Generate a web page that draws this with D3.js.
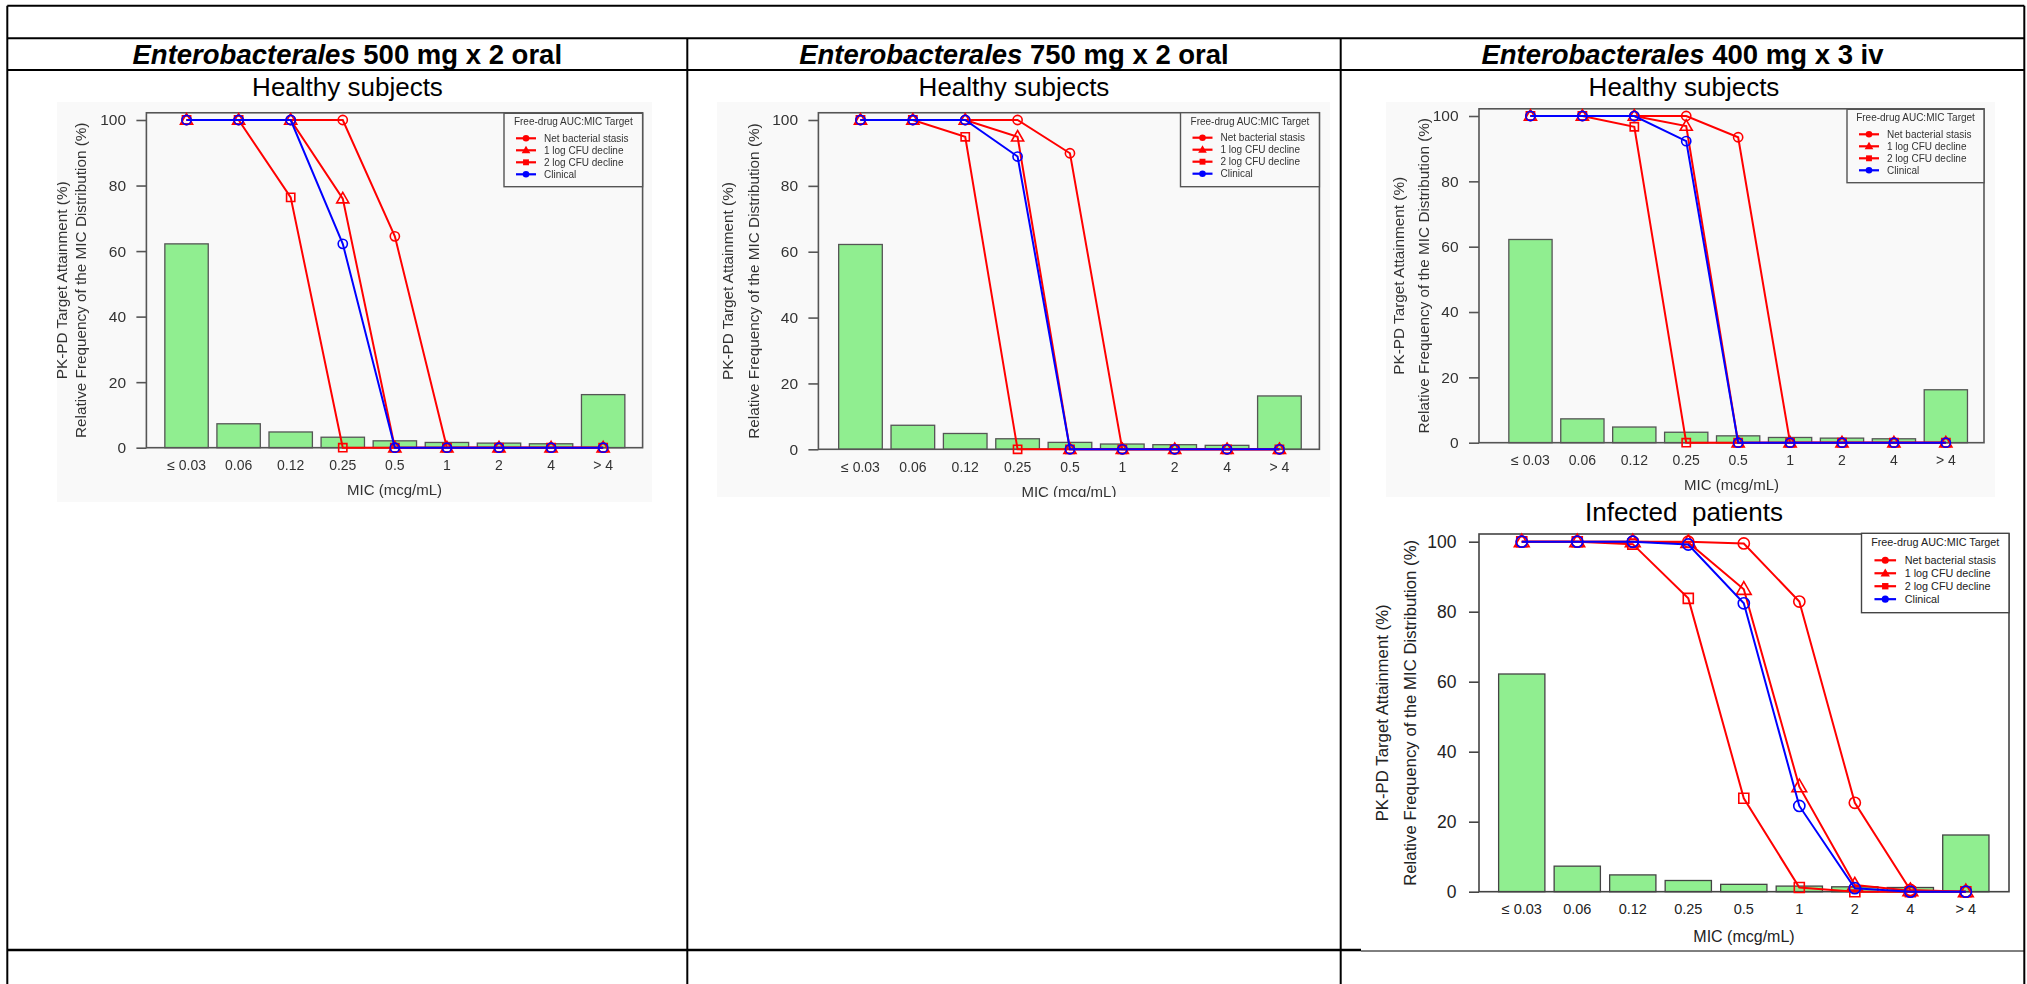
<!DOCTYPE html>
<html>
<head>
<meta charset="utf-8">
<script src="https://cdn.jsdelivr.net/npm/d3@7"></script>
<style>
  body { margin: 0; background: #fff; }
  svg { display: block; font-family: "Liberation Sans", Arial, sans-serif; }
</style>
</head>
<body>
<svg id="page" width="2027" height="984"></svg>
<script>
// ---- data ----
const micLabels = ["\u2264 0.03", "0.06", "0.12", "0.25", "0.5", "1", "2", "4", "> 4"];
const micFrequency = [62.2, 7.3, 4.8, 3.2, 2.1, 1.6, 1.4, 1.2, 16.2];
const yTicks = [0, 20, 40, 60, 80, 100];
const targetNames = ["Net bacterial stasis", "1 log CFU decline", "2 log CFU decline", "Clinical"];
const targetColors = ["#ff0000", "#ff0000", "#ff0000", "#0000ff"];
const targetShapes = ["circle", "triangle", "square", "circle"];
const doseLabels = ["500 mg x 2 oral", "750 mg x 2 oral", "400 mg x 3 iv"];

const oral500Stasis   = [100, 100, 100, 100, 64.5, 0, 0, 0, 0];
const oral500OneLog   = [100, 100, 100, 76, 0, 0, 0, 0, 0];
const oral500TwoLog   = [100, 100, 76.4, 0, 0, 0, 0, 0, 0];
const oral500Clinical = [100, 100, 100, 62.2, 0, 0, 0, 0, 0];

const oral750Stasis   = [100, 100, 100, 100, 89.9, 0, 0, 0, 0];
const oral750OneLog   = [100, 100, 100, 94.9, 0, 0, 0, 0, 0];
const oral750TwoLog   = [100, 100, 94.9, 0, 0, 0, 0, 0, 0];
const oral750Clinical = [100, 100, 100, 88.9, 0, 0, 0, 0, 0];

const iv400Stasis   = [100, 100, 100, 100, 93.5, 0, 0, 0, 0];
const iv400OneLog   = [100, 100, 100, 96.9, 0, 0, 0, 0, 0];
const iv400TwoLog   = [100, 100, 96.7, 0, 0, 0, 0, 0, 0];
const iv400Clinical = [100, 100, 100, 92.3, 0, 0, 0, 0, 0];

const infectedStasis   = [100, 100, 100, 100, 99.5, 82.9, 25.4, 0.5, 0];
const infectedOneLog   = [100, 100, 100, 99.8, 86.4, 30, 1.9, 0.3, 0];
const infectedTwoLog   = [100, 100, 99.3, 83.8, 26.7, 1.2, 0, 0, 0];
const infectedClinical = [100, 100, 100, 99.2, 82.4, 24.5, 1.0, 0, 0];

const FONT = '"Liberation Sans", Arial, sans-serif';
const svg = d3.select("#page");

svg.append("defs").append("filter").attr("id", "soft")
  .append("feGaussianBlur").attr("stdDeviation", 0.45);

// ---- table frame ----
const frame = svg.append("g").attr("stroke", "#000").attr("stroke-width", 2);
const colX = [7.3, 687.3, 1340.7, 2024.3];
frame.append("line").attr("x1", colX[0]).attr("x2", colX[3]).attr("y1", 5.7).attr("y2", 5.7);
[38.3, 70].forEach(yy =>
  frame.append("line").attr("x1", colX[0]).attr("x2", colX[3]).attr("y1", yy).attr("y2", yy));
frame.append("line").attr("x1", colX[0]).attr("x2", colX[0]).attr("y1", 5.7).attr("y2", 984);
frame.append("line").attr("x1", colX[3]).attr("x2", colX[3]).attr("y1", 5.7).attr("y2", 984);
[colX[1], colX[2]].forEach(xx =>
  frame.append("line").attr("x1", xx).attr("x2", xx).attr("y1", 38.3).attr("y2", 984));
frame.append("line").attr("x1", colX[0]).attr("x2", 1361).attr("y1", 950).attr("y2", 950).attr("stroke-width", 2.5);
frame.append("line").attr("x1", 1361).attr("x2", colX[3]).attr("y1", 951).attr("y2", 951).attr("stroke-width", 1);

// column headers
doseLabels.forEach((dose, i) => {
  const t = svg.append("text")
    .attr("x", (colX[i] + colX[i + 1]) / 2).attr("y", 63.5)
    .attr("text-anchor", "middle").attr("font-size", 27.5).attr("font-weight", "bold");
  t.append("tspan").attr("font-style", "italic").text("Enterobacterales");
  t.append("tspan").text(" " + dose);
});

// sub titles
[[347.5, 96, "Healthy subjects"], [1014, 96, "Healthy subjects"], [1684, 96, "Healthy subjects"],
 [1684, 520.5, "Infected\u00a0\u00a0patients"]].forEach(([cx, cy, s]) =>
  svg.append("text").attr("x", cx).attr("y", cy).attr("text-anchor", "middle")
    .attr("font-size", 26).text(s));

// ---- one chart ----
function drawPanel(p) {
  const g = svg.append("g");
  if (p.bg) {
    const id = "clip" + p.id;
    svg.select("defs").append("clipPath").attr("id", id).append("rect")
      .attr("x", p.bg[0]).attr("y", p.bg[1]).attr("width", p.bg[2] - p.bg[0]).attr("height", p.bg[3] - p.bg[1]);
    g.attr("clip-path", `url(#${id})`);
    g.append("rect").attr("x", p.bg[0]).attr("y", p.bg[1])
      .attr("width", p.bg[2] - p.bg[0]).attr("height", p.bg[3] - p.bg[1]).attr("fill", "#f9f9f9");
  }
  const c = g.append("g");
  if (p.soft) c.attr("filter", "url(#soft)");

  const y = d3.scaleLinear().domain([0, 100]).range([p.y0, p.y100]);
  const x = d3.scaleBand().domain(micLabels).range(p.band).paddingInner(1 / 6).paddingOuter(1 / 12);
  const cx = i => x(micLabels[i]) + x.bandwidth() / 2;
  const top = y(102.2);

  c.selectAll("rect.bar").data(micFrequency).join("rect").attr("class", "bar")
    .attr("x", (d, i) => x(micLabels[i])).attr("y", d => y(d))
    .attr("width", x.bandwidth()).attr("height", d => y(0) - y(d))
    .attr("fill", "#90ee90").attr("stroke", p.ink).attr("stroke-width", 1.3);

  c.append("rect").attr("x", p.left).attr("y", top).attr("width", p.right - p.left)
    .attr("height", y(0) - top).attr("fill", "none").attr("stroke", p.ink).attr("stroke-width", 1.6);

  const ya = c.append("g").attr("transform", `translate(${p.left},0)`)
    .call(d3.axisLeft(y).tickValues(yTicks).tickSize(10).tickPadding(p.tickPad));
  ya.attr("font-size", p.yFont).attr("font-family", FONT);
  ya.select(".domain").remove();
  ya.selectAll("line").attr("stroke", p.ink).attr("stroke-width", 1.6);
  ya.selectAll("text").attr("fill", p.text);

  const xa = c.append("g").attr("transform", `translate(0,${y(0)})`)
    .call(d3.axisBottom(x).tickSize(0).tickPadding(p.xPad));
  xa.attr("font-size", p.xFont).attr("font-family", FONT);
  xa.select(".domain").remove();
  xa.selectAll("text").attr("fill", p.text);

  c.append("text").attr("x", (p.left + p.right) / 2).attr("y", y(0) + p.titleDy)
    .attr("text-anchor", "middle").attr("font-size", p.titleFont).attr("fill", p.text)
    .text("MIC (mcg/mL)");

  const mid = (top + y(0)) / 2;
  ["PK-PD Target Attainment (%)", "Relative Frequency of the MIC Distribution (%)"].forEach((s, k) =>
    c.append("text").attr("transform", `translate(${p.labX[k]},${mid}) rotate(-90)`)
      .attr("text-anchor", "middle").attr("dy", "0.35em")
      .attr("font-size", p.labFont).attr("fill", p.text).text(s));

  const line = d3.line().x((d, i) => cx(i)).y(d => y(d));
  p.series.forEach((vals, k) => {
    const sg = c.append("g").attr("stroke", targetColors[k]).attr("fill", "none");
    sg.append("path").attr("d", line(vals)).attr("stroke-width", p.lw);
    vals.forEach((v, i) => marker(sg, targetShapes[k], cx(i), y(v), p.r, false));
  });

  // legend
  const L = p.legend, s = L.s;
  const lg = c.append("g");
  lg.append("rect").attr("x", L.x0).attr("y", L.y0).attr("width", L.x1 - L.x0).attr("height", L.y1 - L.y0)
    .attr("fill", p.bg ? "#f9f9f9" : "#fff").attr("stroke", p.ink).attr("stroke-width", 1.4);
  lg.append("text").attr("x", (L.x0 + L.x1) / 2).attr("y", L.y0 + 8.6 * s).attr("dy", "0.35em")
    .attr("text-anchor", "middle").attr("font-size", 10 * s).attr("fill", p.text)
    .text("Free-drug AUC:MIC Target");
  targetNames.forEach((name, k) => {
    const ly = L.y0 + (25 + 12 * k) * s;
    const eg = lg.append("g").attr("stroke", targetColors[k]).attr("fill", targetColors[k]);
    eg.append("line").attr("x1", L.x0 + 12 * s).attr("x2", L.x0 + 32 * s)
      .attr("y1", ly).attr("y2", ly).attr("stroke-width", 2.2);
    marker(eg, targetShapes[k], L.x0 + 22 * s, ly, 3.3 * s, true);
    lg.append("text").attr("x", L.x0 + 40 * s).attr("y", ly).attr("dy", "0.35em")
      .attr("font-size", 10 * s).attr("fill", p.text).text(name);
  });
}

function marker(g, shape, mx, my, r, filled) {
  let m;
  if (shape === "circle") {
    m = g.append("circle").attr("cx", mx).attr("cy", my).attr("r", r);
  } else {
    const type = shape === "triangle" ? d3.symbolTriangle : d3.symbolSquare;
    const area = shape === "triangle" ? r * r * 3.0 : r * r * 3.2;
    m = g.append("path").attr("d", d3.symbol().type(type).size(area)())
      .attr("transform", `translate(${mx},${my + (shape === "triangle" ? r * 0.15 : 0)})`);
  }
  m.attr("fill", filled ? null : "none").attr("stroke-width", filled ? 0 : 1.6);
}

const panels = [
  { id: "a", bg: [57, 102, 652, 502], soft: true, left: 146.4, right: 642.6, y0: 447.7, y100: 120,
    band: [160.5, 629.2], ink: "#555", text: "#333", yFont: 15.5, xFont: 14, titleFont: 15, labFont: 15.3,
    tickPad: 10.4, xPad: 12.3, titleDy: 47.7, labX: [62, 81], r: 4.6, lw: 2,
    legend: { x0: 504, x1: 642.6, y0: 113.3, y1: 186.7, s: 1 },
    series: [oral500Stasis, oral500OneLog, oral500TwoLog, oral500Clinical] },
  { id: "b", bg: [717, 102, 1330, 497], soft: true, left: 818.4, right: 1319.4, y0: 449.3, y100: 120,
    band: [834.3, 1305.6], ink: "#555", text: "#333", yFont: 15.5, xFont: 14, titleFont: 15, labFont: 15.3,
    tickPad: 10.4, xPad: 12.3, titleDy: 47.7, labX: [728, 754], r: 4.6, lw: 2,
    legend: { x0: 1180.5, x1: 1319.4, y0: 112.7, y1: 186.7, s: 1 },
    series: [oral750Stasis, oral750OneLog, oral750TwoLog, oral750Clinical] },
  { id: "c", bg: [1386, 102, 1995, 497], soft: true, left: 1479, right: 1984, y0: 442.7, y100: 116,
    band: [1504.5, 1971.8], ink: "#555", text: "#333", yFont: 15.5, xFont: 14, titleFont: 15, labFont: 15.3,
    tickPad: 10.4, xPad: 12.3, titleDy: 47.7, labX: [1399, 1424], r: 4.6, lw: 2,
    legend: { x0: 1847, x1: 1984, y0: 109.3, y1: 182.7, s: 1 },
    series: [iv400Stasis, iv400OneLog, iv400TwoLog, iv400Clinical] },
  { id: "d", bg: null, soft: false, left: 1479, right: 2009, y0: 891.7, y100: 541.7,
    band: [1494, 1993.6], ink: "#444", text: "#222", yFont: 17.5, xFont: 14.5, titleFont: 16, labFont: 16.8,
    tickPad: 12.5, xPad: 12, titleDy: 50.7, labX: [1382.6, 1409.8], r: 5.6, lw: 2,
    legend: { x0: 1861.5, x1: 2009, y0: 533.3, y1: 612.7, s: 1.08 },
    series: [infectedStasis, infectedOneLog, infectedTwoLog, infectedClinical] }
];

panels.forEach(drawPanel);
</script>
</body>
</html>
